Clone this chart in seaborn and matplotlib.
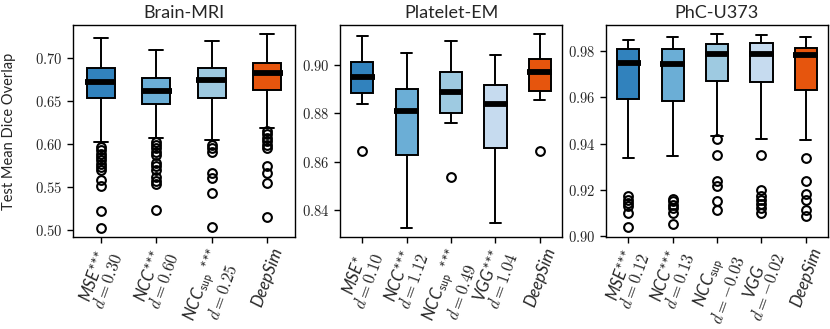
import matplotlib
matplotlib.use("Agg")
import matplotlib.pyplot as plt
import seaborn as sns

sns.set_theme(style="ticks")
plt.rcParams["font.family"] = ["Lato", "DejaVu Sans"]
plt.rcParams["mathtext.fontset"] = "cm"

titles = ["Brain-MRI", "Platelet-EM", "PhC-U373"]

# ---------------- Brain-MRI ----------------
brain_labels = ["MSE***\n$d = 0.30$", "NCC***\n$d = 0.60$",
                "NCC$_{\\mathsf{sup}}$ ***\n$d = 0.25$", "DeepSim"]
brain_med = [0.672, 0.661, 0.674, 0.6825]
brain_q1 = [0.653, 0.646, 0.6535, 0.663]
brain_q3 = [0.688, 0.676, 0.6876, 0.694]
brain_lo = [0.6025, 0.6064, 0.6044, 0.6187]
brain_hi = [0.723, 0.709, 0.7196, 0.7274]
brain_fliers = [
    [0.5966, 0.5928, 0.5882, 0.5851, 0.5812, 0.5766, 0.5735, 0.5696, 0.5580, 0.5510, 0.5224, 0.5027],
    [0.6026, 0.5988, 0.595, 0.591, 0.587, 0.578, 0.574, 0.570, 0.562, 0.557, 0.553, 0.523],
    [0.5988, 0.595, 0.591, 0.566, 0.561, 0.543, 0.504],
    [0.615, 0.611, 0.607, 0.603, 0.5986, 0.5955, 0.5742, 0.5665, 0.5549, 0.5156],
]
brain_yticks = [0.50, 0.55, 0.60, 0.65, 0.70]

# ---------------- Platelet-EM ----------------
plat_labels = ["MSE*\n$d = 0.10$", "NCC***\n$d = 1.12$",
               "NCC$_{\\mathsf{sup}}$ ***\n$d = 0.49$", "VGG***\n$d = 1.04$", "DeepSim"]
plat_med = [0.895, 0.881, 0.889, 0.8837, 0.897]
plat_q1 = [0.8883, 0.8629, 0.880, 0.8657, 0.8894]
plat_q3 = [0.9014, 0.890, 0.8972, 0.8916, 0.9025]
plat_lo = [0.8837, 0.8326, 0.8761, 0.8347, 0.8855]
plat_hi = [0.9121, 0.9051, 0.9099, 0.9041, 0.9128]
plat_fliers = [[0.8644], [], [0.8537], [], [0.8644]]
plat_yticks = [0.84, 0.86, 0.88, 0.90]

# ---------------- PhC-U373 ----------------
phc_labels = ["MSE***\n$d = 0.12$", "NCC***\n$d = 0.13$",
              "NCC$_{\\mathsf{sup}}$\n$d = -0.03$", "VGG\n$d = -0.02$", "DeepSim"]
phc_med = [0.9747, 0.9743, 0.9786, 0.9786, 0.9783]
phc_q1 = [0.9592, 0.9585, 0.9671, 0.9665, 0.9632]
phc_q3 = [0.9809, 0.9809, 0.983, 0.9833, 0.9814]
phc_lo = [0.9339, 0.9345, 0.9431, 0.942, 0.9417]
phc_hi = [0.9847, 0.9859, 0.9872, 0.9869, 0.9859]
phc_fliers = [
    [0.9172, 0.9158, 0.9144, 0.9129, 0.9101, 0.9039],
    [0.9161, 0.9151, 0.9137, 0.9122, 0.9101, 0.9055],
    [0.942, 0.9352, 0.9237, 0.9215, 0.9154, 0.9112],
    [0.9352, 0.9201, 0.9172, 0.9155, 0.9141, 0.9122, 0.9101],
    [0.9338, 0.9237, 0.9184, 0.9158, 0.9112, 0.9089],
]
phc_yticks = [0.90, 0.92, 0.94, 0.96, 0.98]

pal = sns.color_palette("tab20c")
blues = [pal[0], pal[1], pal[2], pal[3]]
orange = pal[4]

panels = [
    (brain_labels, brain_med, brain_q1, brain_q3, brain_lo, brain_hi, brain_fliers, brain_yticks, (0.492, 0.738)),
    (plat_labels, plat_med, plat_q1, plat_q3, plat_lo, plat_hi, plat_fliers, plat_yticks, (0.8288, 0.9166)),
    (phc_labels, phc_med, phc_q1, phc_q3, phc_lo, phc_hi, phc_fliers, phc_yticks, (0.8997, 0.9912)),
]

fig = plt.figure(figsize=(8.3, 3.29), dpi=100)
lefts = [73 / 830, 340 / 830, 606 / 830]
W = 222 / 830
B = 1 - 237 / 329
H = 212 / 329

for i, (labels, med, q1, q3, lo, hi, fl, yt, ylim) in enumerate(panels):
    ax = fig.add_axes([lefts[i], B, W, H])
    n = len(labels)
    stats = []
    for j in range(n):
        stats.append(dict(med=med[j], q1=q1[j], q3=q3[j], whislo=lo[j], whishi=hi[j],
                          fliers=fl[j], label=labels[j]))
    colors = blues[: n - 1] + [orange]
    bp = ax.bxp(stats, positions=range(1, n + 1), widths=0.5, patch_artist=True,
                boxprops=dict(linewidth=1.4, edgecolor="black"),
                medianprops=dict(color="black", linewidth=4.2, solid_capstyle="butt"),
                whiskerprops=dict(color="black", linewidth=1.4),
                capprops=dict(color="black", linewidth=1.4),
                flierprops=dict(marker="o", markerfacecolor="none", markeredgecolor="black",
                                markersize=6.3, markeredgewidth=1.5))
    for patch, c in zip(bp["boxes"], colors):
        patch.set_facecolor(c)
    for m in bp["medians"]:
        x = m.get_xdata()
        m.set_xdata([x[0] - 0.03, x[1] + 0.03])
    ax.set_xlim(0.5, n + 0.5)
    ax.set_ylim(*ylim)
    ax.set_yticks(yt, labels=[f"${t:.2f}$" for t in yt])
    ax.set_xticks(range(1, n + 1))
    ax.set_xticklabels(labels, rotation=70, ha="center", fontstyle="italic", fontsize=12,
                       linespacing=0.95)
    ax.tick_params(axis="y", labelsize=10.5, length=4, width=1, color="black")
    ax.tick_params(axis="x", length=4, width=1, color="black", pad=2)
    for s in ax.spines.values():
        s.set_color("black")
        s.set_linewidth(1)
    ax.set_title(titles[i], fontsize=13, pad=5)
    if i == 0:
        ax.set_ylabel("Test Mean Dice Overlap", fontsize=10.5, labelpad=14)

fig.savefig("out.png", dpi=100)
